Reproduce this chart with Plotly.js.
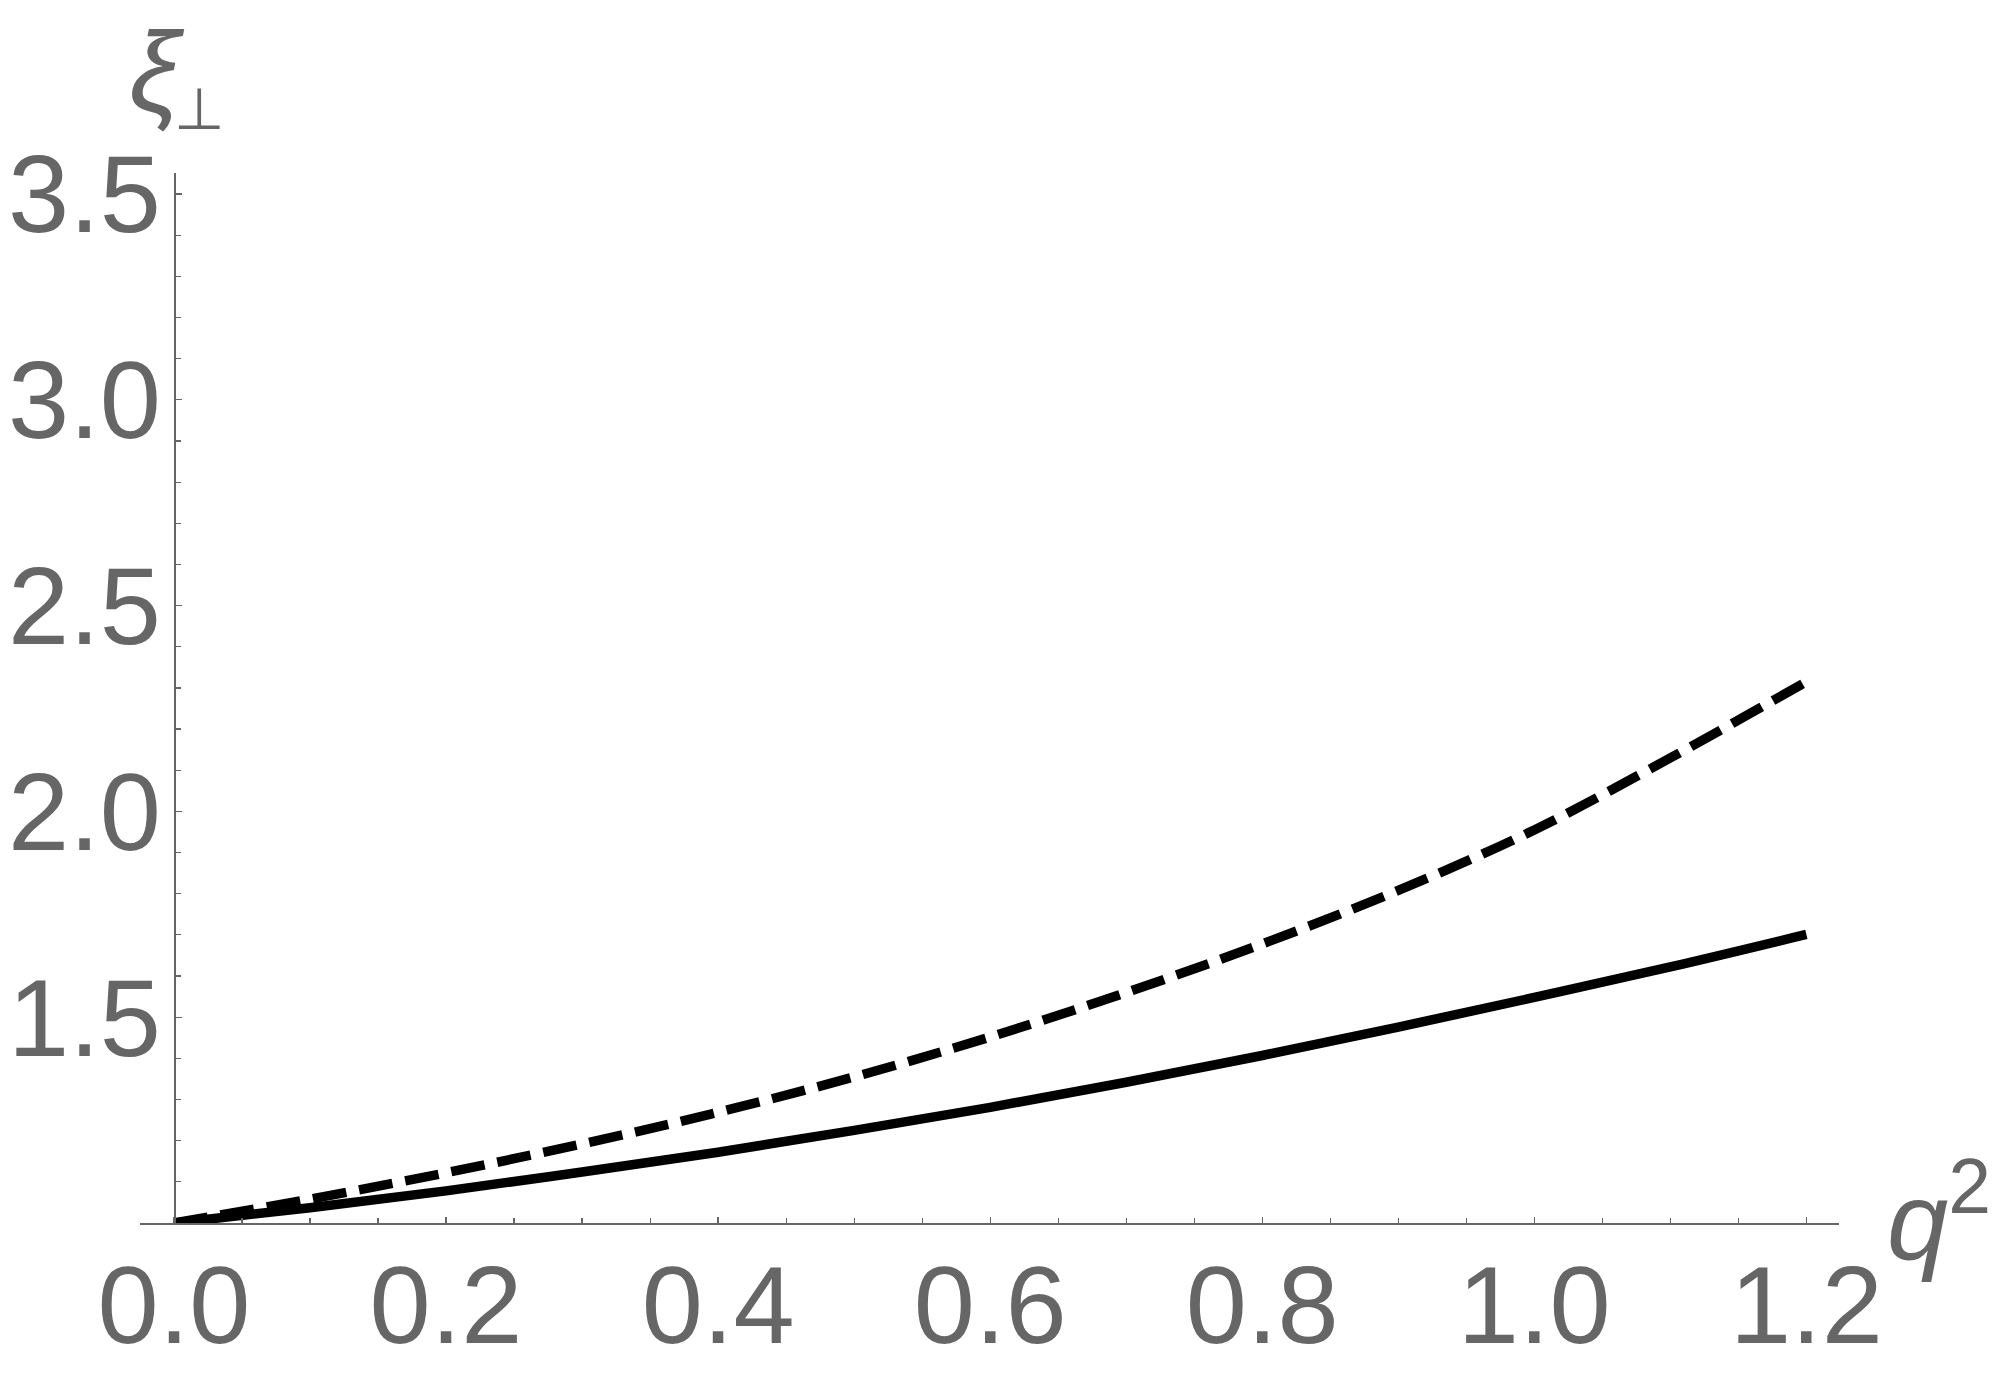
<!DOCTYPE html>
<html>
<head>
<meta charset="utf-8">
<script src="https://cdn.plot.ly/plotly-3.0.1.min.js"></script>
<style>
  html, body { margin: 0; padding: 0; background: #ffffff; }
  #plot { width: 2000px; height: 1381px; }
</style>
</head>
<body>
<div id="plot"></div>
<script>
// q^2 sample points and the two xi_perp curves
const q2 = [0, 0.1, 0.2, 0.3, 0.4, 0.5, 0.6, 0.7, 0.8, 0.9, 1.0, 1.1, 1.2];
const xiSolid = [1.000, 1.037, 1.078, 1.124, 1.172, 1.225, 1.281, 1.342, 1.407, 1.476, 1.548, 1.622, 1.701];
const xiDashed = [1.000, 1.058, 1.122, 1.192, 1.269, 1.355, 1.452, 1.560, 1.678, 1.808, 1.955, 2.130, 2.315];

const xTickVals = [0, 0.2, 0.4, 0.6, 0.8, 1.0, 1.2];
const xTickText = ["0.0", "0.2", "0.4", "0.6", "0.8", "1.0", "1.2"];
const yTickVals = [1.5, 2.0, 2.5, 3.0, 3.5];
const yTickText = ["1.5", "2.0", "2.5", "3.0", "3.5"];

const xRange = [-0.025, 1.224];
const yRange = [1.0, 3.551];

const axisGray = "#666666";
const labelFont = { family: "Liberation Sans, Arial, sans-serif", size: 110, color: axisGray };

const traces = [
  {
    type: "scatter",
    mode: "lines",
    x: q2,
    y: xiDashed,
    line: { color: "#000000", width: 9.5, dash: "34px,13px", shape: "spline" },
    hoverinfo: "skip"
  },
  {
    type: "scatter",
    mode: "lines",
    x: q2,
    y: xiSolid,
    line: { color: "#000000", width: 9.5, shape: "spline" },
    hoverinfo: "skip"
  }
];

const layout = {
  width: 2000,
  height: 1381,
  margin: { l: 140, r: 161, t: 173, b: 158 },
  paper_bgcolor: "#ffffff",
  plot_bgcolor: "#ffffff",
  showlegend: false,
  font: labelFont,
  xaxis: {
    range: xRange,
    tickmode: "array",
    tickvals: xTickVals,
    ticktext: xTickText,
    ticks: "inside",
    ticklen: 6,
    tickwidth: 1.3,
    tickcolor: axisGray,
    minor: { dtick: 0.05, tick0: 0, ticks: "inside", ticklen: 5, tickwidth: 1.2, tickcolor: axisGray },
    showline: true,
    linecolor: axisGray,
    linewidth: 1.5,
    showgrid: false,
    zeroline: false,
    tickfont: labelFont,
    ticklabelstandoff: -14
  },
  yaxis: {
    range: yRange,
    anchor: "free",
    position: (0 - xRange[0]) / (xRange[1] - xRange[0]),
    tickmode: "array",
    tickvals: yTickVals,
    ticktext: yTickText,
    ticks: "inside",
    ticklen: 6,
    tickwidth: 1.3,
    tickcolor: axisGray,
    minor: { dtick: 0.1, tick0: 1.0, ticks: "inside", ticklen: 5, tickwidth: 1.2, tickcolor: axisGray },
    showline: true,
    linecolor: axisGray,
    linewidth: 1.5,
    showgrid: false,
    zeroline: false,
    tickfont: labelFont,
    ticklabelstandoff: -9
  },
  annotations: [
    // y-axis label: xi with a perpendicular subscript
    {
      xref: "paper", yref: "paper",
      x: -0.0075, y: 1.097,
      xanchor: "left", yanchor: "middle",
      text: "<i>ξ</i>",
      showarrow: false,
      font: { family: labelFont.family, size: 114, color: axisGray }
    },
    {
      xref: "paper", yref: "paper",
      x: 0.0353, y: 1.061,
      xanchor: "center", yanchor: "middle",
      text: "⊥",
      showarrow: false,
      font: { family: "DejaVu Sans, sans-serif", size: 58, color: axisGray }
    },
    // x-axis label
    {
      xref: "paper", yref: "paper",
      x: 1.027, y: 0.01,
      xanchor: "left", yanchor: "middle",
      text: "<i>q</i><sup>2</sup>",
      showarrow: false,
      font: labelFont
    }
  ]
};

Plotly.newPlot("plot", traces, layout, { displayModeBar: false, staticPlot: true });
</script>
</body>
</html>
